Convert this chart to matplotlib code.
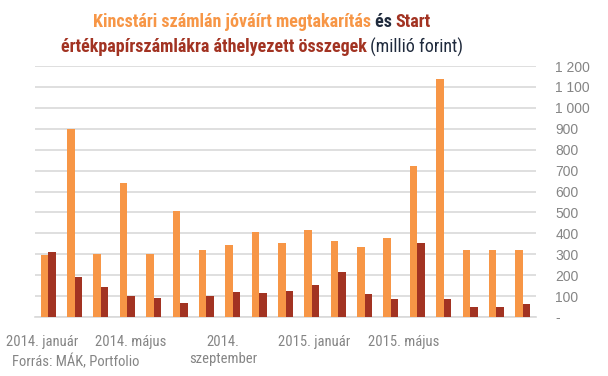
import matplotlib
matplotlib.use("Agg")
import matplotlib.pyplot as plt
from matplotlib import font_manager as fm

# ---- data ----
months = ["2014-01", "2014-02", "2014-03", "2014-04", "2014-05", "2014-06", "2014-07",
          "2014-08", "2014-09", "2014-10", "2014-11", "2014-12", "2015-01", "2015-02",
          "2015-03", "2015-04", "2015-05", "2015-06", "2015-07"]
kincstari = [298, 898, 300, 643, 303, 508, 322, 346, 408, 355, 418, 361, 337, 380, 724, 1140, 318, 322, 322]
start = [312, 193, 145, 102, 92, 68, 102, 121, 116, 126, 155, 217, 112, 88, 355, 84, 50, 50, 60]
tick_labels = ["2014. január", "2014. május", "2014.\nszeptember", "2015. január", "2015. május"]
y_ticks = [0, 100, 200, 300, 400, 500, 600, 700, 800, 900, 1000, 1100, 1200]

# ---- fonts ----
names = {f.name for f in fm.fontManager.ttflist}
cands = ["Roboto Condensed", "Liberation Sans Narrow", "Roboto", "DejaVu Sans"]
fam = [c for c in cands if c in names] + ["DejaVu Sans"]
plt.rcParams['font.family'] = fam
arial = [c for c in ["Liberation Sans", "Arimo", "DejaVu Sans"] if c in names] + ["DejaVu Sans"]

ORANGE = "#F79646"
RED = "#A23322"
DARK = "#1F2A3C"
GREY = "#858585"

fig = plt.figure(figsize=(6.08, 3.76), dpi=100)
ax = fig.add_axes([35/608, 1-317/376, (536-35)/608, (317-66)/376])

x = list(range(len(months)))
w = 0.285
ax.bar([i - w/2 for i in x], kincstari, width=w, color=ORANGE, zorder=3)
ax.bar([i + w/2 for i in x], start, width=w, color=RED, zorder=3)

ax.set_xlim(-0.5, len(months) - 0.5)
ax.set_ylim(0, 1200)
ax.yaxis.tick_right()
ax.set_yticks(y_ticks)
ax.set_yticklabels(["-" if v == 0 else f"{v:,}".replace(",", " ") for v in y_ticks])
for lab in ax.get_yticklabels():
    lab.set_horizontalalignment("left")
    lab.set_family(arial)
ax.tick_params(axis="y", length=0, pad=14, labelsize=10, labelcolor=GREY)
ax.grid(axis="y", color="#D9D9D9", linewidth=1.2, zorder=0)
for s in ["top", "left", "right"]:
    ax.spines[s].set_visible(False)
ax.spines["bottom"].set_color("#D9D9D9")
ax.spines["bottom"].set_linewidth(1.2)

tick_pos = [-0.23, 3.14, 6.63, 10.08, 13.49]
ax.set_xticks(tick_pos)
ax.set_xticklabels(tick_labels, fontsize=10.5, color=GREY, linespacing=1.3)
for lab in ax.get_xticklabels():
    lab.set_verticalalignment("top")
ax.tick_params(axis="x", length=0, pad=13)

fig.text(12/608, 1-362/376, "Forrás: MÁK, Portfolio", fontsize=10.5, color=GREY, va="center", ha="left")

# ---- multi-colour title ----
def colored_line(pieces, cx, cy):
    fig.canvas.draw()
    r = fig.canvas.get_renderer()
    texts = []
    for s, c, wgt in pieces:
        t = fig.text(0, cy, s, color=c, fontsize=13, fontweight=wgt, va="center", ha="left")
        texts.append(t)
    widths = [t.get_window_extent(r).width for t in texts]
    total = sum(widths)
    xpos = cx * 608 - total / 2
    for t, wd in zip(texts, widths):
        t.set_x(xpos / 608)
        xpos += wd

colored_line([("Kincstári számlán jóváírt megtakarítás", ORANGE, "bold"),
              (" és ", DARK, "bold"),
              ("Start", RED, "bold")], 262/608, 1-22/376)
colored_line([("értékpapírszámlákra áthelyezett összegek", RED, "bold"),
              (" (millió forint)", DARK, "normal")], 262/608, 1-47/376)

fig.savefig("out.png", dpi=100)
